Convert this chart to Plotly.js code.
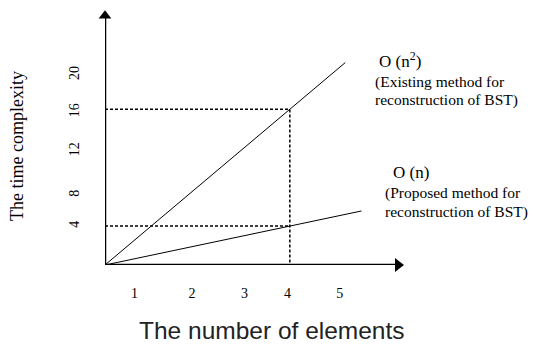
<!DOCTYPE html>
<html>
<head>
<meta charset="utf-8">
<script src="https://cdn.plot.ly/plotly-3.0.1.min.js"></script>
<style>html,body{margin:0;padding:0;background:#fff;}#chart{width:534px;height:345px;}</style>
</head>
<body>
<div id="chart"></div>
<script>
// Data (schematic): line endpoints in axis units
const quadX = [0, 5.2];
const quadY = [0, 20.8];
const linX = [0, 5.55];
const linY = [0, 5.55];
// Reference (dashed) guides
const guideN = 4;
const guideQuad = 16;
const guideLin = 4;
// Tick labels and their positions
const xTickVals = [0.64, 1.88, 3.02, 3.95, 5.08];
const xTickText = ['1', '2', '3', '4', '5'];
const yTickVals = [3.96, 7.15, 11.68, 15.69, 19.5];
const yTickText = ['4', '8', '12', '16', '20'];
// Axis arrow ends
const xArrow = 6.34;
const yArrow = 25.6;
const xMax = 6.6;
const yMax = 26.2;

const serif = 'Liberation Serif, Times New Roman, serif';
const dashStyle = {color: '#000', width: 1.5, dash: '3px,2px'};

const traces = [
  {x: quadX, y: quadY, mode: 'lines', line: {color: '#000', width: 1}, hoverinfo: 'skip'},
  {x: linX, y: linY, mode: 'lines', line: {color: '#000', width: 1}, hoverinfo: 'skip'},
  {x: [0, guideN, guideN], y: [guideQuad, guideQuad, 0], mode: 'lines', line: dashStyle, hoverinfo: 'skip'},
  {x: [0, guideN], y: [guideLin, guideLin], mode: 'lines', line: dashStyle, hoverinfo: 'skip'},
  // axes
  {x: [0, xArrow], y: [0, 0], mode: 'lines', line: {color: '#000', width: 2.5}, hoverinfo: 'skip', cliponaxis: false},
  {x: [0, 0], y: [0, yArrow], mode: 'lines', line: {color: '#000', width: 2.5}, hoverinfo: 'skip', cliponaxis: false},
  {x: [xArrow], y: [0], mode: 'markers', marker: {symbol: 'triangle-right', size: 12, color: '#000'}, hoverinfo: 'skip', cliponaxis: false},
  {x: [0], y: [yArrow], mode: 'markers', marker: {symbol: 'triangle-up', size: 11, color: '#000'}, hoverinfo: 'skip', cliponaxis: false}
];

const layout = {
  width: 534, height: 345,
  margin: {l: 105, r: 124, t: 10, b: 80},
  paper_bgcolor: '#fff', plot_bgcolor: '#fff',
  showlegend: false,
  xaxis: {
    range: [0, xMax], showgrid: false, zeroline: false, showline: false,
    tickvals: xTickVals, ticktext: xTickText, ticks: '',
    tickfont: {family: serif, size: 14, color: '#000'},
    ticklabelstandoff: 18, fixedrange: true
  },
  yaxis: {
    range: [0, yMax], showgrid: false, zeroline: false, showline: false,
    tickvals: yTickVals, ticktext: yTickText, ticks: '', tickangle: -90,
    tickfont: {family: serif, size: 14, color: '#000'},
    ticklabelstandoff: 22, fixedrange: true
  },
  annotations: [
    // titles
    {xref: 'paper', yref: 'paper', x: -0.2885, y: 0.467, xanchor: 'center', yanchor: 'middle',
     text: 'The time complexity', textangle: -90,
     showarrow: false, font: {family: serif, size: 18, color: '#000'}},
    {xref: 'paper', yref: 'paper', x: 0.548, y: -0.255, xanchor: 'center', yanchor: 'middle',
     text: 'The number of elements',
     showarrow: false, font: {family: 'Liberation Sans, Arial, sans-serif', size: 24.5, color: '#222'}},
    // series labels
    {xref: 'paper', yref: 'paper', x: 0.892, y: 0.751, xanchor: 'left', yanchor: 'bottom', align: 'left',
     text: 'O (n<sup>2</sup>)', showarrow: false, font: {family: serif, size: 17, color: '#000'}},
    {xref: 'paper', yref: 'paper', x: 0.879, y: 0.718, xanchor: 'left', yanchor: 'middle', align: 'left',
     text: '(Existing method for', showarrow: false, font: {family: serif, size: 15.5, color: '#000'}},
    {xref: 'paper', yref: 'paper', x: 0.879, y: 0.647, xanchor: 'left', yanchor: 'middle', align: 'left',
     text: 'reconstruction of BST)', showarrow: false, font: {family: serif, size: 15.5, color: '#000'}},
    {xref: 'paper', yref: 'paper', x: 0.938, y: 0.361, xanchor: 'left', yanchor: 'middle', align: 'left',
     text: 'O (n)', showarrow: false, font: {family: serif, size: 17, color: '#000'}},
    {xref: 'paper', yref: 'paper', x: 0.911, y: 0.282, xanchor: 'left', yanchor: 'middle', align: 'left',
     text: '(Proposed method for', showarrow: false, font: {family: serif, size: 15.5, color: '#000'}},
    {xref: 'paper', yref: 'paper', x: 0.911, y: 0.208, xanchor: 'left', yanchor: 'middle', align: 'left',
     text: 'reconstruction of BST)', showarrow: false, font: {family: serif, size: 15.5, color: '#000'}}
  ]
};

Plotly.newPlot('chart', traces, layout, {displayModeBar: false, staticPlot: true});
</script>
</body>
</html>
